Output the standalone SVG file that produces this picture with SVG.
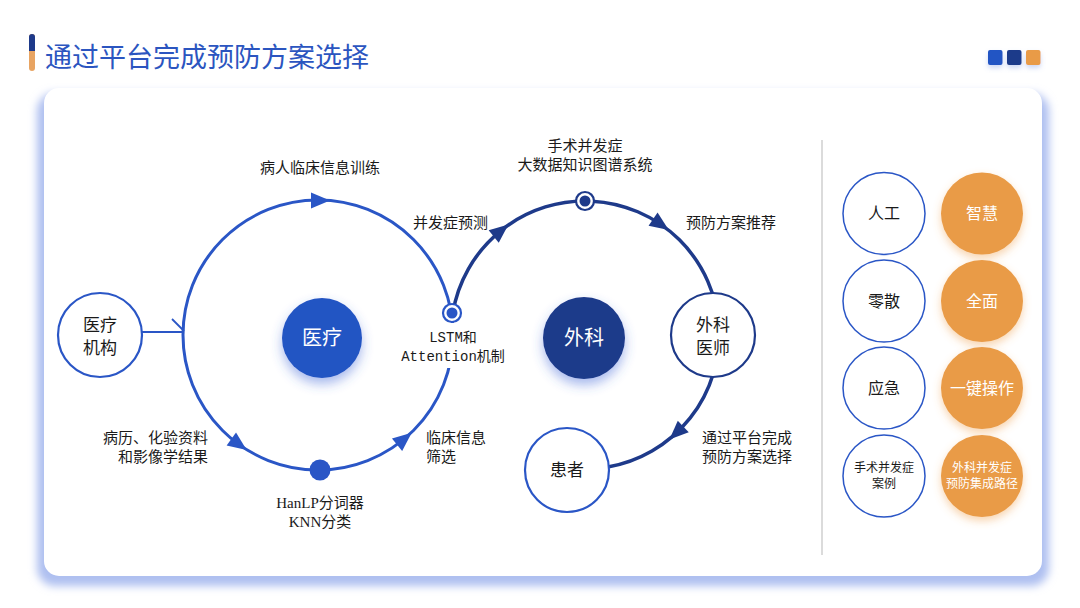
<svg xmlns="http://www.w3.org/2000/svg" width="1080" height="608" viewBox="0 0 1080 608">
<defs>
<style>
text{font-family:"Noto Sans CJK SC","Liberation Sans",sans-serif;fill:#1a1a1a}
.lbl{font-size:15px}
.ctr{text-anchor:middle}
.mono{font-family:"Liberation Mono","Noto Sans CJK SC",monospace;font-size:14px}
.wt{fill:#ffffff}
.ring{fill:#ffffff;stroke-width:2.2}
.blue{stroke:#2a56c6}
.navy{stroke:#1e3a8a}
.orange{fill:#e99b47}
</style>
<filter id="blur4" x="-5%" y="-10%" width="110%" height="120%">
<feGaussianBlur stdDeviation="4"/>
</filter>
<filter id="blueGlow" x="-50%" y="-50%" width="200%" height="200%">
<feDropShadow dx="0" dy="6" stdDeviation="6" flood-color="#3a63d6" flood-opacity="0.45"/>
</filter>
<filter id="orangeGlow" x="-50%" y="-50%" width="200%" height="200%">
<feDropShadow dx="0" dy="4" stdDeviation="4" flood-color="#f0a050" flood-opacity="0.45"/>
</filter>
<filter id="sqShadow" x="-50%" y="-50%" width="200%" height="200%">
<feDropShadow dx="0" dy="3" stdDeviation="2.5" flood-color="#6f8ee0" flood-opacity="0.35"/>
</filter>
<path id="tri" d="M-9,-8 L10,0 L-9,8 Z"/>
</defs>
<rect width="1080" height="608" fill="#ffffff"/>

<!-- title -->
<g id="title">
<rect x="29" y="34" width="6" height="37" rx="3" fill="#e8a462"/>
<path d="M29,51 V37 a3,3 0 0 1 6,0 V51 Z" fill="#1e3a8a"/>
<text x="45" y="67" style="font-size:27px;fill:#2b55c0">通过平台完成预防方案选择</text>
</g>
<g id="squares" filter="url(#sqShadow)">
<rect x="988" y="50" width="14.5" height="15" rx="2" fill="#2255c4"/>
<rect x="1007" y="50" width="14.5" height="15" rx="2" fill="#1e3a8a"/>
<rect x="1026" y="50" width="14.5" height="15" rx="2" fill="#e99b47"/>
</g>

<!-- card -->
<rect x="37" y="93" width="1012" height="493" rx="18" fill="#aebff0" filter="url(#blur4)"/>
<rect id="card" x="44" y="88" width="998" height="488" rx="15" fill="#ffffff"/>

<!-- connectors -->
<g id="connectors">
<circle cx="318" cy="335" r="135" fill="none" stroke="#2a56c6" stroke-width="3"/>
<path d="M452.8,313.1 A134,134 0 1 1 607.8,467" fill="none" stroke="#1e3a8a" stroke-width="3.5"/>
<line x1="142" y1="332" x2="184" y2="332" stroke="#2a56c6" stroke-width="2"/>
<line x1="172" y1="319" x2="184" y2="331" stroke="#2a56c6" stroke-width="1.8"/>
<g fill="#2a56c6">
<use href="#tri" transform="translate(320,200.5)"/>
<use href="#tri" transform="translate(238.6,444.2) rotate(36)"/>
<use href="#tri" transform="translate(404,439) rotate(-39.6)"/>
</g>
<g fill="#1e3a8a">
<use href="#tri" transform="translate(500.7,230.9) rotate(-39)"/>
<use href="#tri" transform="translate(660.5,224.3) rotate(34.3)"/>
<use href="#tri" transform="translate(676.7,432.7) rotate(136.8)"/>
</g>
<rect x="400" y="323" width="105" height="45" fill="#ffffff"/>
</g>

<!-- nodes -->
<g id="node-lstm">
<circle cx="452" cy="313" r="9" fill="#ffffff" stroke="#2a56c6" stroke-width="2.2"/>
<circle cx="452" cy="313" r="5.5" fill="#2a56c6"/>
<text class="mono ctr" x="453" y="342">LSTM和</text>
<text class="mono ctr" x="453" y="361">Attention机制</text>
</g>
<g id="node-kg">
<circle cx="585" cy="201" r="9" fill="#ffffff" stroke="#1e3a8a" stroke-width="2.2"/>
<circle cx="585" cy="201" r="5.5" fill="#1e3a8a"/>
<text class="lbl ctr" x="585" y="151">手术并发症</text>
<text class="lbl ctr" x="585" y="170">大数据知识图谱系统</text>
</g>
<g id="node-hanlp">
<circle cx="320" cy="470" r="10.5" fill="#2a56c6"/>
<text class="ctr" x="320" y="508" style="font-size:15px;font-family:'Liberation Serif','Noto Sans CJK SC',serif">HanLP分词器</text>
<text class="ctr" x="320" y="527" style="font-size:15px;font-family:'Liberation Serif','Noto Sans CJK SC',serif">KNN分类</text>
</g>
<g id="node-yiliao-jigou">
<circle cx="100" cy="335" r="42" class="ring blue"/>
<text class="ctr" x="100" y="331" style="font-size:17px">医疗</text>
<text class="ctr" x="100" y="354" style="font-size:17px">机构</text>
</g>
<g id="node-yiliao">
<circle cx="322" cy="338" r="40" fill="#2454c3" filter="url(#blueGlow)"/>
<text class="ctr wt" x="322" y="345" style="font-size:20px">医疗</text>
</g>
<g id="node-waike">
<circle cx="584" cy="338" r="41" fill="#1e3a8a" filter="url(#blueGlow)"/>
<text class="ctr wt" x="584" y="345" style="font-size:20px">外科</text>
</g>
<g id="node-waike-yishi">
<circle cx="713" cy="335" r="42" class="ring navy"/>
<text class="ctr" x="713" y="331" style="font-size:17px">外科</text>
<text class="ctr" x="713" y="354" style="font-size:17px">医师</text>
</g>
<g id="node-huanzhe">
<circle cx="567" cy="470" r="42" class="ring blue"/>
<text class="ctr" x="567" y="476" style="font-size:17px">患者</text>
</g>

<!-- edge labels -->
<g id="labels">
<text class="lbl ctr" x="320" y="173">病人临床信息训练</text>
<text class="lbl" x="413" y="228">并发症预测</text>
<text class="lbl" x="686" y="228">预防方案推荐</text>
<text class="lbl" x="208" y="443" text-anchor="end">病历、化验资料</text>
<text class="lbl" x="208" y="462" text-anchor="end">和影像学结果</text>
<text class="lbl" x="426" y="443">临床信息</text>
<text class="lbl" x="426" y="462">筛选</text>
<text class="lbl" x="702" y="443">通过平台完成</text>
<text class="lbl" x="702" y="462">预防方案选择</text>
</g>

<!-- right panel -->
<line x1="822" y1="140" x2="822" y2="555" stroke="#cfcfcf" stroke-width="1.5"/>
<g id="cmp-rengong">
<circle cx="884" cy="213.5" r="41" fill="#ffffff" stroke="#2a56c6" stroke-width="1.5"/>
<text class="ctr" x="884" y="219" style="font-size:16px">人工</text>
</g>
<g id="cmp-zhihui">
<circle cx="982" cy="213.5" r="41" class="orange" filter="url(#orangeGlow)"/>
<text class="ctr wt" x="982" y="219" style="font-size:16px">智慧</text>
</g>
<g id="cmp-lingsan">
<circle cx="884" cy="301" r="41" fill="#ffffff" stroke="#2a56c6" stroke-width="1.5"/>
<text class="ctr" x="884" y="306.5" style="font-size:16px">零散</text>
</g>
<g id="cmp-quanmian">
<circle cx="982" cy="301" r="41" class="orange" filter="url(#orangeGlow)"/>
<text class="ctr wt" x="982" y="306.5" style="font-size:16px">全面</text>
</g>
<g id="cmp-yingji">
<circle cx="884" cy="388" r="41" fill="#ffffff" stroke="#2a56c6" stroke-width="1.5"/>
<text class="ctr" x="884" y="393.5" style="font-size:16px">应急</text>
</g>
<g id="cmp-yijian">
<circle cx="982" cy="388" r="41" class="orange" filter="url(#orangeGlow)"/>
<text class="ctr wt" x="982" y="393.5" style="font-size:16px">一键操作</text>
</g>
<g id="cmp-anli">
<circle cx="884" cy="476" r="41" fill="#ffffff" stroke="#2a56c6" stroke-width="1.5"/>
<text class="ctr" x="884" y="472" style="font-size:12px">手术并发症</text>
<text class="ctr" x="884" y="488" style="font-size:12px">案例</text>
</g>
<g id="cmp-lujing">
<circle cx="982" cy="476" r="41" class="orange" filter="url(#orangeGlow)"/>
<text class="ctr wt" x="982" y="472" style="font-size:12px">外科并发症</text>
<text class="ctr wt" x="982" y="488" style="font-size:12px">预防集成路径</text>
</g>
</svg>
